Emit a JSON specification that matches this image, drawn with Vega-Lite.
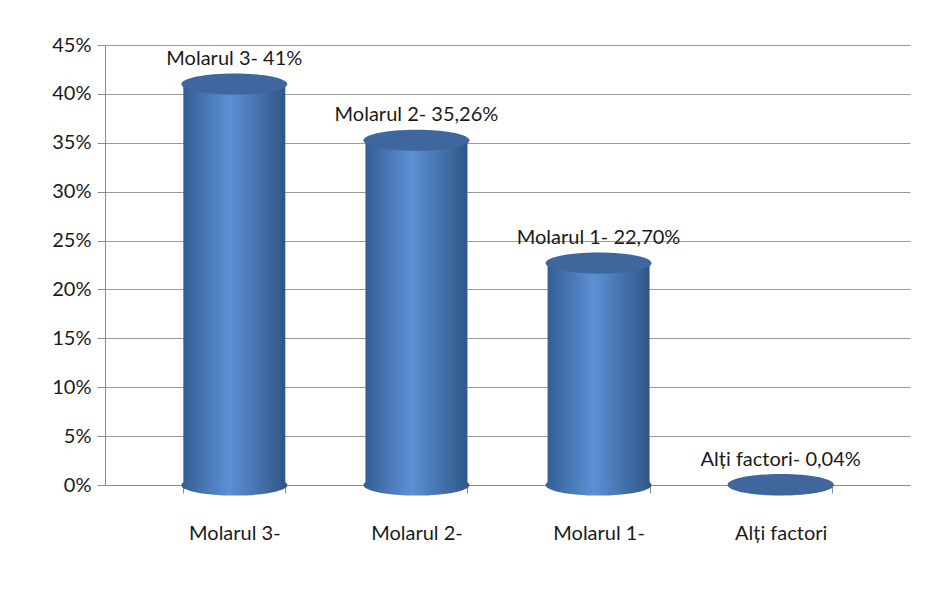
{
  "$schema": "https://vega.github.io/schema/vega-lite/v6.json",
  "autosize": {"type": "none"},
  "width": 805,
  "height": 440,
  "padding": {"left": 105, "top": 45, "right": 22, "bottom": 131},
  "background": "white",
  "config": {
    "view": {"stroke": null},
    "font": "Lato",
    "axis": {"labelFont": "Lato", "labelFontSize": 20, "labelColor": "#1a1a1a", "domainColor": "#8c8c8c", "tickColor": "#8c8c8c", "gridColor": "#9a9a9a", "titleFontSize": 0}
  },
  "data": {
    "values": [
      {"cat": "Molarul 3-", "v": 0.41, "label": "Molarul 3- 41%"},
      {"cat": "Molarul 2-", "v": 0.3526, "label": "Molarul 2- 35,26%"},
      {"cat": "Molarul 1-", "v": 0.227, "label": "Molarul 1- 22,70%"},
      {"cat": "Alți factori", "v": 0.0004, "label": "Alți factori-  0,04%"}
    ]
  },
  "encoding": {
    "x": {
      "field": "cat", "type": "nominal", "sort": null,
      "scale": {"paddingInner": 0.44, "paddingOuter": 0.43},
      "axis": {"title": null, "labelAngle": 0, "labelPadding": 30, "tickBand": "extent", "tickSize": 8, "labelFontSize": 20}
    },
    "y": {
      "field": "v", "type": "quantitative",
      "scale": {"domain": [0, 0.45], "nice": false},
      "axis": {"title": null, "format": ".0%", "values": [0, 0.05, 0.1, 0.15, 0.2, 0.25, 0.3, 0.35, 0.4, 0.45], "grid": true, "tickSize": 8, "labelPadding": 6, "labelFontSize": 20}
    }
  },
  "layer": [
    {
      "mark": {
        "type": "point", "filled": true, "opacity": 1, "size": 11236,
        "shape": "M-1,0 A1,0.2 0 1,0 1,0 A1,0.2 0 1,0 -1,0 Z",
        "fill": {"gradient": "linear", "x1": 0, "x2": 1, "y1": 0, "y2": 0,
          "stops": [{"offset": 0, "color": "#345e94"}, {"offset": 0.45, "color": "#5c90d6"}, {"offset": 1, "color": "#2f5687"}]}
      },
      "encoding": {"y": {"datum": 0}}
    },
    {
      "mark": {
        "type": "bar",
        "color": {"gradient": "linear", "x1": 0, "x2": 1, "y1": 0, "y2": 0,
          "stops": [{"offset": 0, "color": "#345e94"}, {"offset": 0.45, "color": "#5c90d6"}, {"offset": 1, "color": "#2f5687"}]}
      }
    },
    {
      "mark": {
        "type": "point", "filled": true, "opacity": 1, "size": 11236,
        "shape": "M-1,0 A1,0.2 0 1,0 1,0 A1,0.2 0 1,0 -1,0 Z",
        "color": "#3f679d"
      }
    },
    {
      "mark": {"type": "text", "dy": -25, "fontSize": 20, "font": "Lato", "color": "#1a1a1a"},
      "encoding": {"text": {"field": "label"}}
    }
  ]
}
